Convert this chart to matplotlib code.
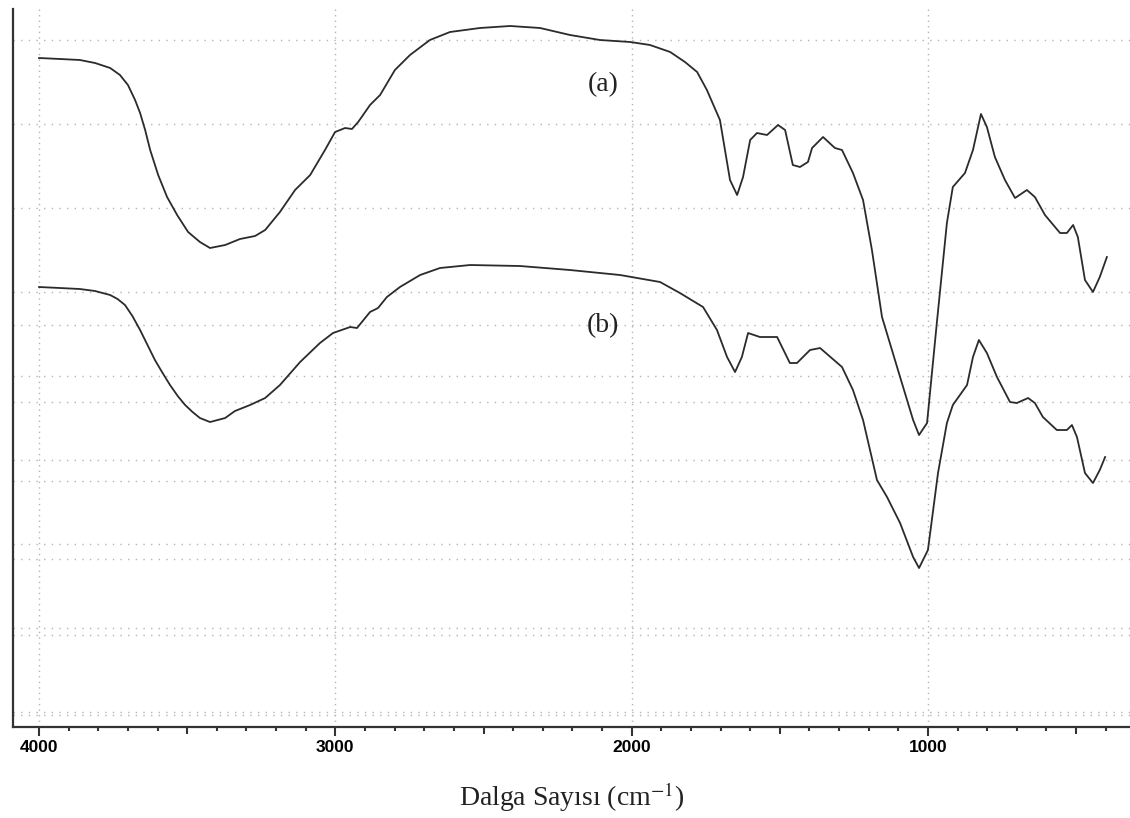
import matplotlib
matplotlib.use("Agg")
import matplotlib.pyplot as plt
from matplotlib.ticker import FixedLocator, NullFormatter

# --- data (wavenumber cm-1, relative transmittance, arbitrary units) ---
wn_a = [4000, 3929, 3862, 3811, 3760, 3727, 3700, 3676, 3659, 3642, 3625, 3598, 3568, 3534,
        3497, 3457, 3423, 3372, 3322, 3271, 3237,
        3187, 3136, 3085, 3035, 3001, 2967, 2944, 2923, 2883, 2849, 2799, 2748, 2681, 2613,
        2512, 2410, 2309, 2208, 2107, 2005, 1938, 1870, 1820, 1779, 1746, 1702, 1668, 1644,
        1624, 1600, 1577, 1543, 1506, 1482, 1456, 1432, 1405, 1391, 1354, 1314, 1290, 1253,
        1219, 1189, 1155, 1094, 1050, 1030, 1003, 970, 936, 916, 875, 848, 821, 801, 774,
        740, 706, 666, 639, 605, 554, 531, 510, 494, 470, 443, 420, 396]
t_a = [669, 668, 667, 664, 659, 652, 642, 627, 614, 597, 577, 552, 530, 512,
       495, 485, 479, 482, 488, 491, 497,
       515, 537, 552, 577, 595, 599, 598, 605, 622, 632, 657, 672, 687, 695,
       699, 701, 699, 692, 687, 685, 682, 675, 665, 655, 637, 607, 547, 532,
       550, 587, 594, 592, 602, 597, 562, 560, 565, 579, 590, 579, 577, 554,
       527, 477, 410, 350, 307, 292, 304, 404, 504, 540, 554, 577, 613, 600, 570,
       547, 529, 537, 530, 512, 494, 494, 502, 490, 447, 435, 450, 470]

wn_b = [4000, 3929, 3862, 3811, 3760, 3735, 3710, 3685, 3659, 3634, 3609, 3583, 3558, 3532,
        3507, 3482, 3457, 3423, 3372, 3339, 3288, 3237,
        3187, 3119, 3052, 3008, 2950, 2927, 2883, 2856, 2826, 2782, 2714, 2647, 2545, 2377,
        2208, 2039, 1904, 1837, 1759, 1712, 1678, 1651, 1628, 1607, 1567, 1509, 1466, 1442,
        1398, 1364, 1290, 1253, 1219, 1172, 1138, 1094, 1050, 1030, 1000, 966, 936, 916,
        868, 848, 828, 801, 767, 723, 700, 662, 639, 612, 565, 531, 514, 497, 470, 443,
        420, 402]
t_b = [440, 439, 438, 436, 432, 428, 422, 411, 397, 382, 367, 354, 342, 331,
       322, 315, 309, 305, 309, 316, 322, 329,
       342, 365, 384, 394, 400, 399, 415, 419, 430, 440, 452, 459, 462, 461,
       457, 452, 445, 434, 420, 397, 370, 355, 370, 394, 390, 390, 364, 364,
       377, 379, 360, 337, 307, 247, 230, 204, 170, 159, 177, 254, 304, 322,
       342, 370, 387, 374, 350, 325, 324, 329, 324, 310, 297, 297, 302, 290, 254, 244,
       257, 270]

major_ticks = [4000, 3000, 2000, 1000]
mid_ticks = [3500, 2500, 1500, 500]
tick_labels = ["4000", "3000", "2000", "1000"]
labels = ["(a)", "(b)"]
label_pos = [(2097, 642), (2097, 401)]
grid_a = [687, 603, 519, 435, 351, 267, 183, 99, 15]
grid_b = [402, 325, 246, 168, 92, 12]

plt.rcParams["mathtext.fontset"] = "stix"

fig = plt.figure(figsize=(11.30, 8.18), dpi=100)
ax = fig.add_axes([0.0115, 0.1112, 0.9885, 0.8778])

ax.set_xlim(4088, 318)
ax.set_ylim(0, 718)

gcol = "#b4b4b4"
for g in grid_a + grid_b:
    ax.axhline(g, color=gcol, lw=1.0, ls=(0, (1, 4.5)), zorder=0)
for v in major_ticks:
    ax.axvline(v, color=gcol, lw=1.0, ls=(0, (1, 3)), zorder=0)

lc = "#2b2b2b"
ax.plot(wn_a, t_a, color=lc, lw=1.3)
ax.plot(wn_b, t_b, color=lc, lw=1.3)

for s, (x, y) in zip(labels, label_pos):
    ax.text(x, y, s, ha="center", va="center", fontsize=20,
            family="Liberation Serif", color="#222222")

for sp in ["top", "right"]:
    ax.spines[sp].set_visible(False)
for sp in ["left", "bottom"]:
    ax.spines[sp].set_color("#333333")
    ax.spines[sp].set_linewidth(1.6)

ax.set_yticks([])
ax.xaxis.set_major_locator(FixedLocator(major_ticks))
ax.set_xticklabels(tick_labels, fontsize=12.5, fontweight="bold", family="Liberation Sans")
ax.xaxis.set_minor_locator(FixedLocator([w for w in range(400, 4100, 100)
                                         if w % 500 != 0]))
ax.tick_params(axis="x", which="major", direction="out", length=6.5, width=1.5,
               color="#333333", pad=3)
ax.tick_params(axis="x", which="minor", direction="out", length=3, width=1.5,
               color="#333333")

sec = ax.secondary_xaxis("bottom")
sec.spines["bottom"].set_visible(False)
sec.xaxis.set_major_locator(FixedLocator(mid_ticks))
sec.xaxis.set_major_formatter(NullFormatter())
sec.tick_params(axis="x", which="major", direction="out", length=5, width=1.5,
                color="#333333")
sec.xaxis.set_minor_locator(FixedLocator([]))

ax.set_xlabel("Dalga Sayısı (cm$^{-1}$)", fontsize=20, family="Liberation Serif",
              color="#222222")
ax.xaxis.set_label_coords(0.5, -0.0974)
ax.xaxis.label.set_verticalalignment("center")

fig.savefig("out.png", dpi=100)
